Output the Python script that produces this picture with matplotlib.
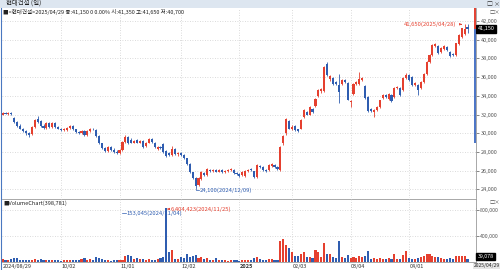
import matplotlib
matplotlib.use('Agg')
import matplotlib.pyplot as plt
import matplotlib.transforms as mtransforms
import numpy as np

plt.rcParams['font.family'] = ['Noto Sans CJK KR', 'DejaVu Sans']

# ---------------- data ----------------
opens = [32000, 32200, 32100, 32200, 31600, 31200, 30800, 30500, 30200, 30000,
         29900, 30700, 31500, 31300, 30800, 30600, 31100, 30700, 31100, 30700,
         30400, 30300, 30300, 30600, 30800, 30400, 30100, 30000, 30200, 29800,
         30200, 30500, 30300, 29700, 28900, 28400, 28100, 28500, 28200, 28000,
         27900, 28200, 29100, 29600, 29300, 29000, 29300, 29000, 29200, 28600,
         29000, 29400, 29000, 28300, 28500, 28800, 28100, 27900, 27700, 28300,
         27800, 27900, 27700, 27300, 26700, 25800, 25200, 24450, 25100, 25700,
         25500, 26100, 26000, 26100, 25900, 26100, 25800, 26000, 26100, 26100,
         25700, 25600, 25500, 25400, 26000, 26200, 26000, 25300, 26500, 26400,
         26100, 26100, 26500, 26600, 26400, 26100, 29000, 30000, 31300, 30500,
         30800, 30400, 30500, 31700, 32300, 32000, 32600, 32900, 34000, 34500,
         34500, 37400, 35800, 35900, 35500, 35200, 35300, 35700, 35400, 33300,
         34200, 35300, 35300, 35700, 35000, 33900, 32600, 32300, 32500, 32800,
         33800, 34100, 33700, 34100, 33900, 34800, 34800, 34600, 35900, 36200,
         36000, 35200, 35200, 34800, 35500, 36300, 37600, 38400, 39300, 39300,
         38700, 39000, 39200, 38700, 38500, 38400, 39500, 40300, 40600, 41350]
highs = [32300, 32300, 32300, 32300, 31700, 31300, 31000, 30600, 30300, 30100,
         30800, 31500, 31800, 31400, 31000, 31200, 31200, 31200, 31200, 30800,
         30600, 30600, 30700, 30900, 30900, 30500, 30200, 30300, 30300, 30300,
         30600, 30600, 30400, 29800, 29000, 28500, 28600, 28600, 28400, 28200,
         28300, 29200, 29800, 29700, 29500, 29300, 29400, 29300, 29300, 29100,
         29500, 29500, 29100, 28600, 28600, 28900, 28200, 28000, 28600, 28400,
         28000, 28000, 27800, 27400, 26800, 25900, 25300, 25300, 26000, 25800,
         26300, 26200, 26200, 26200, 26200, 26200, 26100, 26200, 26300, 26200,
         25900, 25700, 26000, 26100, 26200, 26300, 26000, 26700, 26600, 26500,
         26200, 26700, 26800, 26700, 26500, 28600, 29800, 31600, 31400, 30900,
         30900, 30500, 31500, 32600, 32400, 32900, 32700, 33800, 34700, 34800,
         37200, 37600, 36200, 36000, 35600, 36300, 35800, 35800, 35500, 33600,
         35400, 35600, 36500, 36000, 35200, 34000, 32700, 32600, 32900, 33600,
         34200, 34200, 34300, 34200, 34900, 35000, 34900, 36000, 36400, 36300,
         36100, 35500, 35300, 35600, 36400, 37700, 38500, 39500, 39700, 39400,
         39200, 39400, 39300, 38800, 38600, 39700, 40600, 41300, 41650, 41650]
lows = [31950, 32050, 32000, 32000, 31100, 30700, 30400, 30100, 29800, 29600,
        29800, 30600, 31100, 30700, 30500, 30500, 30600, 30600, 30600, 30400,
        30200, 30200, 30200, 30500, 30300, 30000, 29900, 29900, 29700, 29700,
        30100, 30300, 29600, 28800, 28300, 28000, 28000, 28100, 27900, 27800,
        27800, 28100, 29000, 28800, 28900, 28900, 28900, 28900, 28400, 28500,
        28900, 29000, 28400, 28200, 28300, 27900, 27500, 27600, 27600, 27700,
        27600, 27600, 27200, 26600, 25700, 25100, 24100, 24400, 25000, 25400,
        25400, 25900, 25800, 25800, 25800, 25700, 25700, 25900, 26000, 25600,
        25500, 25300, 25400, 25300, 25900, 26000, 25200, 25200, 26300, 26000,
        25900, 26000, 26400, 26300, 26100, 26000, 28700, 29800, 30400, 30300,
        30200, 30100, 30400, 31600, 31900, 31900, 32200, 32800, 33900, 34300,
        34400, 36100, 35600, 35200, 35200, 33200, 35200, 35400, 33500, 32850,
        34100, 35200, 35200, 35600, 33700, 32300, 32300, 31750, 32400, 32700,
        33700, 33800, 33600, 33300, 33800, 34700, 34000, 34500, 35800, 35600,
        35100, 35100, 34100, 34700, 35400, 36200, 37500, 38300, 39200, 38500,
        38600, 38900, 38800, 38200, 38300, 38300, 39400, 40200, 40500, 40700]
closes = [32200, 32100, 32200, 32100, 31200, 30800, 30500, 30200, 30000, 29800,
          30700, 31400, 31200, 30800, 30600, 31100, 30700, 31100, 30700, 30500,
          30300, 30500, 30600, 30800, 30400, 30100, 30000, 30200, 29800, 30200,
          30500, 30400, 29700, 28900, 28400, 28100, 28500, 28200, 28000, 27900,
          28200, 29100, 29600, 28900, 29000, 29200, 29000, 29200, 28500, 29000,
          29400, 29100, 28500, 28500, 28400, 28000, 27600, 27700, 28300, 27800,
          27900, 27700, 27300, 26700, 25800, 25200, 24400, 25200, 25900, 25500,
          26200, 26000, 26100, 25900, 26100, 25800, 26000, 26100, 26200, 25700,
          25600, 25400, 25900, 26000, 26100, 26100, 25300, 26600, 26400, 26100,
          26000, 26600, 26700, 26400, 26200, 28500, 29700, 31500, 30500, 30700,
          30300, 30200, 31400, 32500, 32000, 32800, 32300, 33700, 34600, 34700,
          37100, 36200, 36100, 35300, 35300, 34400, 35700, 35500, 33600, 33450,
          35300, 35500, 35800, 35900, 33800, 32400, 32400, 32500, 32800, 33500,
          34100, 33900, 34200, 33400, 34800, 34900, 34100, 35900, 36200, 35700,
          35200, 35400, 34600, 35500, 36300, 37600, 38400, 39400, 39500, 38600,
          39100, 39300, 38900, 38300, 38400, 39600, 40500, 41200, 41150, 41150]
volumes = [45000, 35000, 30000, 40000, 60000, 55000, 35000, 30000, 30000, 35000,
           35000, 45000, 30000, 45000, 30000, 25000, 30000, 25000, 30000, 25000,
           20000, 25000, 30000, 35000, 30000, 35000, 30000, 40000, 55000, 35000,
           45000, 30000, 70000, 65000, 40000, 30000, 25000, 20000, 35000, 30000,
           35000, 30000, 100000, 105000, 90000, 45000, 60000, 50000, 40000, 35000,
           45000, 35000, 30000, 45000, 55000, 75000, 6404423, 155000, 190000, 50000,
           40000, 70000, 60000, 120000, 70000, 90000, 110000, 65000, 80000, 40000,
           60000, 35000, 30000, 60000, 30000, 30000, 25000, 20000, 30000, 35000,
           25000, 20000, 30000, 35000, 30000, 25000, 55000, 70000, 40000, 30000,
           35000, 45000, 50000, 35000, 30000, 320000, 360000, 260000, 210000, 160000,
           100000, 90000, 130000, 160000, 80000, 80000, 60000, 190000, 160000, 70000,
           290000, 130000, 130000, 70000, 60000, 330000, 80000, 60000, 115000, 60000,
           80000, 60000, 90000, 70000, 100000, 170000, 50000, 60000, 50000, 55000,
           50000, 40000, 55000, 50000, 120000, 50000, 45000, 115000, 170000, 60000,
           50000, 45000, 60000, 70000, 90000, 130000, 130000, 100000, 80000, 70000,
           60000, 50000, 50000, 60000, 40000, 90000, 100000, 90000, 95000, 39078]

month_idx = [20, 40, 61, 81, 99, 119, 139]
month_labels = ['10/02', '11/01', '12/02', '2025', '02/03', '03/04', '04/01']
price_ticks = [24000, 26000, 28000, 30000, 32000, 34000, 36000, 38000, 40000, 42000]
vol_ticks = [400000, 800000]

RED = '#e5402f'
BLUE = '#2f5db0'
GRID = '#cfcfcf'

W, H = 500, 270
fig = plt.figure(figsize=(5, 2.7), dpi=100)
fig.patch.set_facecolor('white')


def rect(x0, y0, x1, y1):
    return [x0 / W, 1 - y1 / H, (x1 - x0) / W, (y1 - y0) / H]


def fy(y):
    return 1 - y / H


n = len(closes)
idx = np.arange(n)
o = np.array(opens, float)
c = np.array(closes, float)
hi = np.array(highs, float)
lo = np.array(lows, float)
v = np.array(volumes, float)
cols = [RED if cc >= oo else BLUE for oo, cc in zip(o, c)]

XL = (-0.2, 161.9)

# ---------------- price panel ----------------
axp = fig.add_axes(rect(2, 8, 476, 198))
axp.set_xlim(*XL)
axp.set_ylim(23070, 43390)
for p in price_ticks:
    axp.axhline(p, color=GRID, lw=0.6, ls=(0, (1, 2)), zorder=0)
for m in month_idx:
    axp.axvline(m, color=GRID, lw=0.6, ls=(0, (1, 2)), zorder=0)
axp.vlines(idx, lo, hi, colors=cols, lw=0.6, zorder=2)
body = np.maximum(np.abs(c - o), 60)
axp.bar(idx, body, bottom=np.minimum(o, c), width=0.72, color=cols, lw=0, zorder=3)
axp.set_xticks([])
axp.yaxis.tick_right()
axp.set_yticks(price_ticks)
axp.set_yticklabels([f'{p:,}' for p in price_ticks], fontsize=4.0, color='#333333')
axp.tick_params(axis='y', length=2, width=0.5, pad=1.2, colors='#555555')
for s in ['top', 'left', 'bottom']:
    axp.spines[s].set_visible(False)
axp.spines['right'].set_color('#9a9a9a')
axp.spines['right'].set_linewidth(0.6)

# range bar on the price axis
axp.vlines(161.6, 41150, 43390, colors='#e03020', lw=1.3, zorder=4, clip_on=False)
axp.vlines(161.6, 28950, 41150, colors='#3a68c0', lw=1.3, zorder=4, clip_on=False)

# max / min annotations
imin = int(np.argmin(lo))
axp.annotate('41,650(2025/04/28)', xy=(158, 41650), xytext=(155.0, 41650),
             fontsize=4.2, color=RED, ha='right', va='center',
             arrowprops=dict(arrowstyle='-|>', color=RED, lw=0.5, mutation_scale=3))
axp.plot([imin, imin, imin + 1.2], [lo[imin], 23900, 23900], color=BLUE, lw=0.5)
axp.text(imin + 1.4, 23900, '24,100(2024/12/09)', fontsize=4.2, color=BLUE, va='center', ha='left')

# current price box
axp.text(1.003, (41150 - 23070) / (43390 - 23070), '41,150', transform=axp.transAxes,
         fontsize=4.0, color='white', va='center', ha='left',
         bbox=dict(boxstyle='square,pad=0.25', fc='black', ec='black'))

# ---------------- volume panel ----------------
VTOP = 54 * 15385  # value at the top of the bar area
axv = fig.add_axes(rect(2, 208, 476, 262))
axv.set_xlim(*XL)
axv.set_ylim(0, VTOP)
for t in vol_ticks:
    axv.axhline(t, color=GRID, lw=0.6, ls=(0, (1, 2)), zorder=0)
for m in month_idx:
    axv.axvline(m, color=GRID, lw=0.6, ls=(0, (1, 2)), zorder=0)
axv.bar(idx, v, width=0.72, color=cols, lw=0, zorder=3)
axv.set_xticks([])
axv.yaxis.tick_right()
axv.set_yticks(vol_ticks)
axv.set_yticklabels([f'{t:,}' for t in vol_ticks], fontsize=3.8, color='#333333')
axv.tick_params(axis='y', length=2, width=0.5, pad=1.0, colors='#555555')
for s in ['left', 'top']:
    axv.spines[s].set_visible(False)
for s in ['right', 'bottom']:
    axv.spines[s].set_color('#9a9a9a')
    axv.spines[s].set_linewidth(0.6)

# upper part of the volume panel (label strip)
fig.lines.append(plt.Line2D([2 / W, 476 / W], [fy(198.5), fy(198.5)], transform=fig.transFigure,
                            color='#9a9a9a', lw=0.6))
fig.lines.append(plt.Line2D([476 / W, 476 / W], [fy(198.5), fy(208)], transform=fig.transFigure,
                            color='#9a9a9a', lw=0.6))
for m in month_idx:
    xm = 2 + (m - XL[0]) / (XL[1] - XL[0]) * 474
    fig.lines.append(plt.Line2D([xm / W, xm / W], [fy(199), fy(208)], transform=fig.transFigure,
                                color=GRID, lw=0.6, ls=(0, (1, 2))))
fig.text(3 / W, fy(203.5), '■VolumeChart(398,781)', fontsize=4.0, color='#222222',
         va='center', ha='left')

axv.text(1.003, volumes[-1] / VTOP + 0.05, '39,078', transform=axv.transAxes,
         fontsize=3.8, color='white', va='center', ha='left',
         bbox=dict(boxstyle='square,pad=0.2', fc='black', ec='black'))

# volume max / min annotations (values written as in the source chart)
vmax_i = int(np.argmax(v))
axv.annotate('6,404,423(2024/11/25)', xy=(vmax_i + 0.3, 815000), xytext=(vmax_i + 1.6, 815000),
             fontsize=4.2, color=RED, ha='left', va='center', annotation_clip=False,
             arrowprops=dict(arrowstyle='-|>', color=RED, lw=0.5, mutation_scale=3))
axv.plot([41, 42.2], [754000, 754000], color=BLUE, lw=0.5)
axv.text(42.3, 754000, '153,045(2024/11/04)', fontsize=4.2, color=BLUE, va='center', ha='left')

# x labels
blend = mtransforms.blended_transform_factory(axv.transData, axv.transAxes)
axv.text(0, -0.04, '2024/08/29', transform=blend, fontsize=4.0, color='#333333', va='top', ha='left')
for m, lab in zip(month_idx, month_labels):
    axv.text(m + 0.2, -0.04, lab, transform=blend, fontsize=4.0, color='#333333', va='top', ha='left',
             fontweight='bold' if lab == '2025' else 'normal')
fig.text(473.5 / W, fy(266), '2025/04/29', fontsize=3.6, color='#222222', va='center', ha='left',
         bbox=dict(boxstyle='square,pad=0.1', fc='#e6e6e6', ec='none'))

# ---------------- window chrome ----------------
fig.patches.append(plt.Rectangle((0, fy(8)), 1, 8 / H, transform=fig.transFigure,
                                 fc='#dde6f0', ec='none', zorder=0))
fig.text(6 / W, fy(4), '현대건설 (일)', fontsize=4.6, color='#222222', va='center', ha='left')
fig.text(487 / W, fy(4), '□ ×', fontsize=4.2, color='#333333', va='center', ha='left')
fig.text(3 / W, fy(12),
         '■<현대건설>2025/04/29 종:41,150 0 0.00% 시:41,350 고:41,650 저:40,700',
         fontsize=4.0, color='#222222', va='center', ha='left')
fig.text(489 / W, fy(12), '□×', fontsize=3.8, color='#555555', va='center', ha='left')
fig.text(489 / W, fy(202), '□×', fontsize=3.8, color='#555555', va='center', ha='left')
fig.lines.append(plt.Line2D([0.8 / W, 0.8 / W], [0, fy(8)], transform=fig.transFigure,
                            color='#4a78c0', lw=0.8))

fig.savefig('out.png', dpi=100)
